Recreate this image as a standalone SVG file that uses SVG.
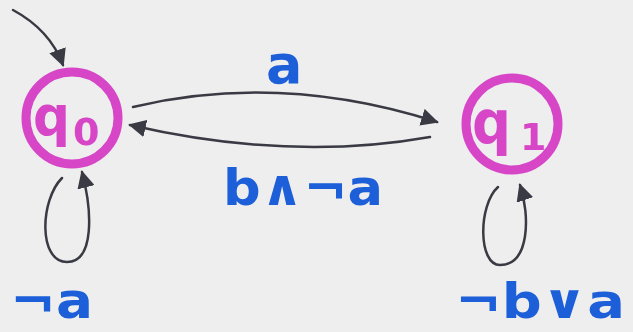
<svg xmlns="http://www.w3.org/2000/svg" width="633" height="332" viewBox="0 0 633 332">
<defs>
<style>
.state{fill:none;stroke:#d646c6;stroke-width:9}
.qlbl{fill:#d646c6;font-family:"DejaVu Sans",sans-serif;font-weight:bold}
.edge{fill:none;stroke:#3a3a44;stroke-width:2.5;stroke-linecap:round}
.lbl{fill:#1c5fd8;font-family:"DejaVu Sans",sans-serif;font-weight:bold}
</style>
<marker id="ahb" viewBox="0 0 10 10" refX="9" refY="5" markerWidth="7" markerHeight="7" orient="auto">
<path d="M0,0 L10,5 L0,10 z" fill="#3a3a44"/>
</marker>
</defs>
<rect width="633" height="332" fill="#eeeeee"/>
<g id="q0">
<circle class="state" cx="72" cy="118" r="46"/>
<text class="qlbl" x="33" y="135" font-size="56" textLength="37" lengthAdjust="spacingAndGlyphs">q</text>
<text class="qlbl" x="73" y="145" font-size="38">0</text>
</g>
<g id="q1">
<circle class="state" cx="512" cy="124" r="46"/>
<text class="qlbl" x="472" y="143" font-size="60" textLength="39" lengthAdjust="spacingAndGlyphs">q</text>
<text class="qlbl" x="520" y="150" font-size="38">1</text>
</g>
<g id="edges">
<path class="edge" d="M13,10 Q50,30 63,65" marker-end="url(#ahb)"/>
<path class="edge" d="M133,107 Q280,72 437,122" marker-end="url(#ahb)"/>
<path class="edge" d="M430,137 Q290,162 130,125" marker-end="url(#ahb)"/>
<path class="edge" d="M62,178 C40,200 38,262 67,262 C95,262 92,210 82,172" marker-end="url(#ahb)"/>
<path class="edge" d="M498,187 C478,205 478,265 500,265 C530,265 530,215 520,185" marker-end="url(#ahb)"/>
</g>
<g id="labels">
<text class="lbl" x="266" y="83" font-size="54">a</text>
<text class="lbl" x="223" y="205" font-size="50" textLength="160" lengthAdjust="spacingAndGlyphs">b∧¬a</text>
<text class="lbl" x="10" y="318" font-size="50" textLength="83" lengthAdjust="spacingAndGlyphs">¬a</text>
<text class="lbl" x="455" y="318" font-size="48" textLength="170" lengthAdjust="spacingAndGlyphs">¬b∨a</text>
</g>
</svg>
